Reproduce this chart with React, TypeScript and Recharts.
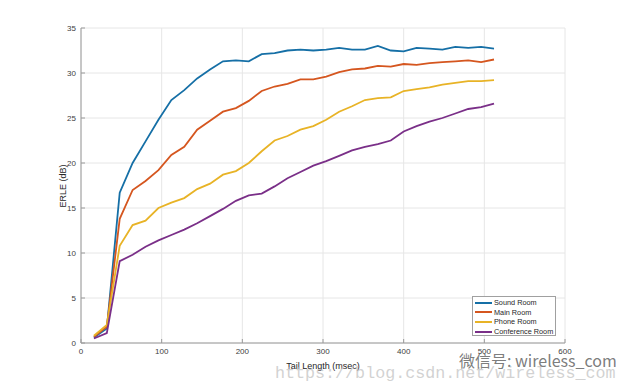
import React from 'react';
import { LineChart, Line, XAxis, YAxis, CartesianGrid, Legend, Label } from 'recharts';

const tailLengths = [16, 32, 48, 64, 80, 96, 112, 128, 144, 160, 176, 192, 208, 224, 240, 256, 272, 288, 304, 320, 336, 352, 368, 384, 400, 416, 432, 448, 464, 480, 496, 512];
const soundRoom = [0.6, 1.6, 16.7, 20.0, 22.4, 24.8, 27.0, 28.1, 29.4, 30.4, 31.3, 31.4, 31.3, 32.1, 32.2, 32.5, 32.6, 32.5, 32.6, 32.8, 32.6, 32.6, 33.0, 32.5, 32.4, 32.8, 32.7, 32.6, 32.9, 32.8, 32.9, 32.7];
const mainRoom = [0.7, 1.8, 13.8, 17.0, 18.0, 19.2, 20.9, 21.8, 23.7, 24.7, 25.7, 26.1, 26.9, 28.0, 28.5, 28.8, 29.3, 29.3, 29.6, 30.1, 30.4, 30.5, 30.8, 30.7, 31.0, 30.9, 31.1, 31.2, 31.3, 31.4, 31.2, 31.5];
const phoneRoom = [0.8, 2.0, 10.8, 13.1, 13.6, 15.0, 15.6, 16.1, 17.1, 17.7, 18.7, 19.1, 20.0, 21.3, 22.5, 23.0, 23.7, 24.1, 24.8, 25.7, 26.3, 27.0, 27.2, 27.3, 28.0, 28.2, 28.4, 28.7, 28.9, 29.1, 29.1, 29.2];
const conferenceRoom = [0.5, 1.1, 9.1, 9.8, 10.7, 11.4, 12.0, 12.6, 13.3, 14.1, 14.9, 15.8, 16.4, 16.6, 17.4, 18.3, 19.0, 19.7, 20.2, 20.8, 21.4, 21.8, 22.1, 22.5, 23.5, 24.1, 24.6, 25.0, 25.5, 26.0, 26.2, 26.6];

const xTicks = [0, 100, 200, 300, 400, 500, 600];
const yTicks = [0, 5, 10, 15, 20, 25, 30, 35];

const seriesKeys = ['sound', 'main', 'phone', 'conference'];
const seriesNames = ['Sound Room', 'Main Room', 'Phone Room', 'Conference Room'];
const seriesColors = ['#156fa6', '#d5561f', '#e8b326', '#7a2f88'];

const data = tailLengths.map((t, i) => ({
  t,
  sound: soundRoom[i],
  main: mainRoom[i],
  phone: phoneRoom[i],
  conference: conferenceRoom[i],
}));

const FONT = '"Liberation Sans", Arial, Helvetica, sans-serif';
const AXIS_COLOR = '#9a9a9a';
const TICK_TEXT = '#404040';

const LegendBox = () => (
  <div
    style={{
      boxSizing: 'border-box',
      width: 84,
      height: 40,
      border: '1px solid #a0a0a0',
      background: '#fff',
      padding: '1px 0 0 2px',
    }}
  >
    {seriesNames.map((name, i) => (
      <div
        key={name}
        style={{
          display: 'flex',
          alignItems: 'center',
          height: 9.6,
          fontSize: 7.3,
          fontFamily: FONT,
          color: '#262626',
          whiteSpace: 'nowrap',
          lineHeight: '9.6px',
        }}
      >
        <svg width={17} height={4} style={{ display: 'block' }}>
          <line x1={0} y1={2} x2={17} y2={2} stroke={seriesColors[i]} strokeWidth={2} />
        </svg>
        <span style={{ marginLeft: 2 }}>{name}</span>
      </div>
    ))}
  </div>
);

export default function App() {
  return (
    <div style={{ position: 'absolute', left: 0, top: 0, width: 624, height: 387, background: '#fff' }}>
      <LineChart
        width={624}
        height={387}
        data={data}
        margin={{ top: 28, right: 59, bottom: 0, left: 0 }}
      >
        <CartesianGrid stroke="#e6e6e6" strokeWidth={1} />
        <XAxis
          dataKey="t"
          type="number"
          domain={[0, 600]}
          ticks={xTicks}
          height={44}
          axisLine={{ stroke: AXIS_COLOR }}
          tickLine={{ stroke: AXIS_COLOR }}
          tickSize={-4}
          tickMargin={9}
          tick={{ fill: TICK_TEXT, fontSize: 8, fontFamily: FONT }}
          interval={0}
        >
          <Label
            content={() => (
              <text x={323} y={366} textAnchor="middle" dominantBaseline="central" fontSize={9} fontFamily={FONT} fill="#262626">
                Tail Length (msec)
              </text>
            )}
          />
        </XAxis>
        <XAxis
          xAxisId="top"
          orientation="top"
          dataKey="t"
          type="number"
          domain={[0, 600]}
          ticks={xTicks}
          height={0}
          axisLine={{ stroke: AXIS_COLOR }}
          tickLine={{ stroke: AXIS_COLOR }}
          tickSize={-4}
          tick={false}
          interval={0}
        />
        <YAxis
          type="number"
          domain={[0, 35]}
          ticks={yTicks}
          width={81}
          axisLine={{ stroke: AXIS_COLOR }}
          tickLine={{ stroke: AXIS_COLOR }}
          tickSize={-4}
          tickMargin={9}
          tick={{ fill: TICK_TEXT, fontSize: 8, fontFamily: FONT }}
          interval={0}
        >
          <Label
            content={() => (
              <text
                x={63}
                y={186}
                textAnchor="middle"
                dominantBaseline="central"
                transform="rotate(-90, 63, 186)"
                fontSize={9}
                fontFamily={FONT}
                fill="#262626"
              >
                ERLE (dB)
              </text>
            )}
          />
        </YAxis>
        <YAxis
          yAxisId="right"
          orientation="right"
          type="number"
          domain={[0, 35]}
          ticks={yTicks}
          width={0}
          axisLine={{ stroke: AXIS_COLOR }}
          tickLine={{ stroke: AXIS_COLOR }}
          tickSize={-4}
          tick={false}
          interval={0}
        />
        {seriesKeys.map((k, i) => (
          <Line
            key={k}
            type="linear"
            dataKey={k}
            name={seriesNames[i]}
            stroke={seriesColors[i]}
            strokeWidth={1.8}
            dot={false}
            activeDot={false}
            isAnimationActive={false}
          />
        ))}
        <Legend
          layout="vertical"
          align="center"
          verticalAlign="middle"
          content={() => <LegendBox />}
          wrapperStyle={{ left: 472, top: 296, width: 84, height: 40 }}
        />
      </LineChart>
      <div
        style={{
          position: 'absolute',
          left: 275,
          top: 364,
          fontFamily: '"Liberation Mono", "DejaVu Sans Mono", monospace',
          fontSize: 16.7,
          color: 'rgba(195,195,195,0.75)',
          whiteSpace: 'nowrap',
          lineHeight: '20px',
          pointerEvents: 'none',
        }}
      >
        https://blog.csdn.net/wireless_com
      </div>
      <div
        style={{
          position: 'absolute',
          left: 459,
          top: 350,
          fontFamily: '"Noto Sans CJK SC", "Liberation Sans", sans-serif',
          fontSize: 16,
          color: 'rgba(90,90,90,0.8)',
          whiteSpace: 'nowrap',
          lineHeight: '20px',
          pointerEvents: 'none',
        }}
      >
        微信号: wireless_com
      </div>
    </div>
  );
}
